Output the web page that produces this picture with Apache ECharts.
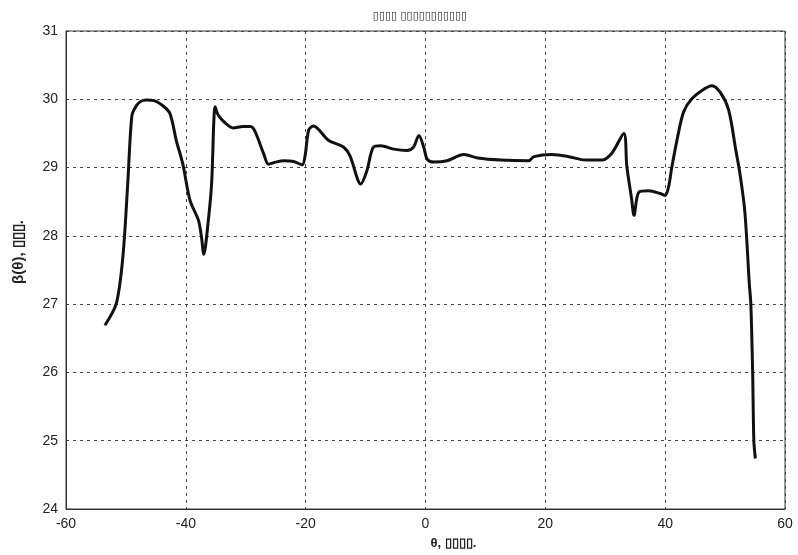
<!DOCTYPE html>
<html>
<head>
<meta charset="utf-8">
<script src="https://cdn.jsdelivr.net/npm/echarts@6/dist/echarts.min.js"></script>
<style>
    html, body { margin: 0; padding: 0; background: #fff; }
    #chart { width: 798px; height: 555px; }
</style>
</head>
<body>
<div id="chart"></div>
<script>
// curve: theta (deg) and beta(theta)
const theta = [
    -53.5, -51.6, -50.5, -49.7, -49.0, -48.3, -47.5, -46.6, -45.3, -44.2, -42.7, -41.6, -40.5,
    -39.3, -37.9, -37.4, -37.0, -36.3, -35.7, -35.1, -34.6, -33.5, -32.1, -30.5, -29.2, -28.4,
    -27.0, -26.2, -25.0, -23.7, -22.0, -20.6, -20.1, -19.5, -18.7, -16.2, -13.7, -12.6, -10.8,
    -9.8, -8.7, -7.5, -5.3, -3.1, -2.0, -1.1, -0.3, 0.3, 1.4, 3.6, 6.4, 8.7, 12.6, 17.2,
    18.1, 21.1, 23.9, 26.7, 29.4, 31.1, 33.1, 33.6, 34.4, 34.8, 35.6, 37.2, 39.2, 40.0,
    40.6, 41.1, 42.2, 43.1, 44.5, 46.7, 47.8, 49.2, 50.6, 51.8, 52.5, 53.3, 54.05, 54.3,
    54.6, 54.8, 55.05
];
const beta = [
    26.69, 27.01, 27.70, 28.76, 29.76, 29.90, 29.97, 29.99, 29.98, 29.93, 29.80, 29.40, 29.05,
    28.52, 28.23, 27.99, 27.73, 28.18, 28.76, 29.89, 29.77, 29.66, 29.58, 29.60, 29.60, 29.52,
    29.20, 29.05, 29.08, 29.10, 29.09, 29.04, 29.17, 29.55, 29.61, 29.40, 29.30, 29.17, 28.76,
    28.95, 29.30, 29.32, 29.27, 29.25, 29.30, 29.47, 29.30, 29.12, 29.08, 29.10, 29.19, 29.14, 29.11, 29.10,
    29.16, 29.19, 29.16, 29.11, 29.11, 29.21, 29.50, 29.02, 28.54, 28.30, 28.64, 28.66, 28.62, 28.59,
    28.73, 29.00, 29.50, 29.82, 30.01, 30.16, 30.20, 30.10, 29.84, 29.25, 28.90, 28.35, 27.29, 27.00,
    26.00, 25.00, 24.74
];
const xTicks = [-60, -40, -20, 0, 20, 40, 60];
const yTicks = [24, 25, 26, 27, 28, 29, 30, 31];
const titleText = '▯▯▯▯ ▯▯▯▯▯▯▯▯▯▯▯';
const yName = 'β(θ), ▯▯▯.';
const xName = 'θ, ▯▯▯▯.';

const chart = echarts.init(document.getElementById('chart'));
const points = theta.map((t, i) => [t, beta[i]]);

chart.setOption({
    animation: false,
    title: {
        text: titleText,
        left: 415,
        top: 6,
        textAlign: 'center',
        textStyle: { fontSize: 11, fontWeight: 'normal', color: '#222', fontFamily: 'DejaVu Sans' },
    },
    grid: { left: 66, right: 13, top: 31, bottom: 44, show: true, borderColor: '#333', borderWidth: 1 },
    xAxis: {
        type: 'value',
        min: xTicks[0],
        max: xTicks[xTicks.length - 1],
        interval: 20,
        name: xName,
        nameLocation: 'middle',
        nameGap: 28,
        nameTextStyle: { fontSize: 13, fontWeight: 'bold', color: '#222', fontFamily: 'Liberation Sans', padding: [0, 0, 0, 56] },
        axisLine: { onZero: false, lineStyle: { color: '#333' } },
        axisTick: { show: false },
        axisLabel: { fontSize: 14, color: '#222', fontFamily: 'Liberation Sans', margin: 8 },
        splitLine: { lineStyle: { color: '#444', type: [3, 4], width: 1 } },
    },
    yAxis: {
        type: 'value',
        min: yTicks[0],
        max: yTicks[yTicks.length - 1],
        interval: 1,
        name: yName,
        nameLocation: 'middle',
        nameGap: 40,
        nameTextStyle: { fontSize: 15, fontWeight: 'bold', color: '#222', fontFamily: 'Liberation Sans', padding: [0, 0, 0, 36] },
        axisLine: { show: true, onZero: false, lineStyle: { color: '#333' } },
        axisTick: { show: false },
        axisLabel: { fontSize: 14, color: '#222', fontFamily: 'Liberation Sans', margin: 8 },
        splitLine: { lineStyle: { color: '#444', type: [3, 4], width: 1 } },
    },
    series: [
        {
            type: 'line',
            data: points,
            smooth: 0.3,
            showSymbol: false,
            lineStyle: { color: '#111', width: 3 },
        },
    ],
});
</script>
</body>
</html>
